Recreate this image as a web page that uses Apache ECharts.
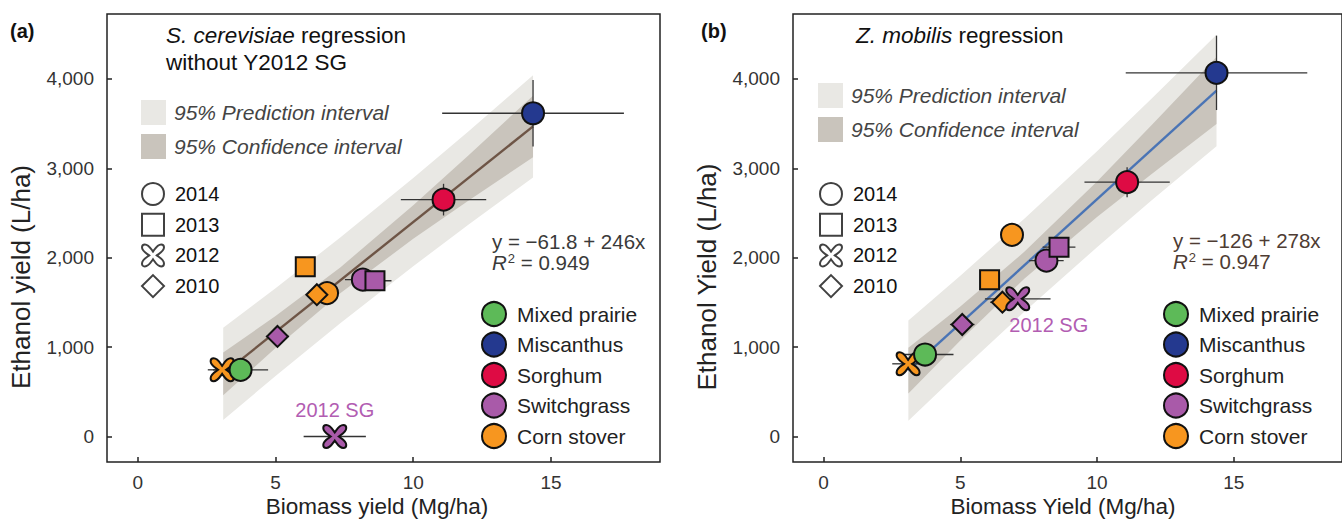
<!DOCTYPE html>
<html>
<head>
<meta charset="utf-8">
<script src="https://cdn.jsdelivr.net/npm/echarts@6/dist/echarts.min.js"></script>
<style>
  html, body { margin: 0; padding: 0; background: #fff; }
  #chart { width: 1342px; height: 521px; }
</style>
</head>
<body>
<div id="chart"></div>
<script>
// ---- categories ----
const cropNames = ['Mixed prairie', 'Miscanthus', 'Sorghum', 'Switchgrass', 'Corn stover'];
const yearLabels = ['2014', '2013', '2012', '2010'];
const bandNames = ['95% Prediction interval', '95% Confidence interval'];
const xTicks = [0, 5, 10, 15];
const yTicks = [0, 1000, 2000, 3000, 4000];

// ---- plotted points (same crop/year layout in both panels) ----
const pointCrop = [4, 4, 4, 4, 3, 3, 3, 3, 0, 1, 2];   // index into cropNames
const pointYear = [2, 3, 1, 0, 3, 1, 0, 2, 0, 0, 0];   // index into yearLabels

// panel (a): S. cerevisiae
const aBiomass    = [3.06, 6.50, 6.08, 6.87, 5.07, 8.61, 8.17, 7.15, 3.73, 14.35, 11.10];
const aEthanol    = [746, 1586, 1899, 1604, 1119, 1742, 1754, 0, 746, 3615, 2649];
const aBiomassErr = [0.52, 0.30, 0, 0.30, 0.42, 0.60, 0.65, 1.13, 1.00, 3.30, 1.55];
const aEthanolErr = [0, 0, 0, 0, 0, 0, 0, 0, 0, 373, 177];

// panel (b): Z. mobilis
const bBiomass    = [3.09, 6.54, 6.07, 6.89, 5.07, 8.61, 8.15, 7.10, 3.71, 14.37, 11.10];
const bEthanol    = [813, 1502, 1752, 2255, 1253, 2117, 1968, 1540, 917, 4067, 2844];
const bBiomassErr = [0.58, 0.45, 0.35, 0, 0.45, 0.60, 0.63, 1.20, 1.04, 3.32, 1.56];
const bEthanolErr = [0, 0, 0, 0, 0, 0, 0, 0, 0, 416, 168];

// ---- fitted regressions ----
const aIntercept = -61.8, aSlope = 246, aR2 = '0.949';
const bIntercept = -126,  bSlope = 278, bR2 = '0.947';

// ---- interval bands ----
const aBandX   = [3.10, 5.00, 7.35, 10.00, 12.00, 14.35];
const aPIUpper = [1217, 1659, 2225, 2892, 3412, 4040];
const aPILower = [185, 677, 1267, 1904, 2368, 2896];
const aCIUpper = [940, 1347, 1891, 2585, 3143, 3812];
const aCILower = [462, 989, 1601, 2211, 2637, 3124];

const bBandX   = [3.10, 5.00, 7.34, 10.00, 12.00, 14.37];
const bPIUpper = [1297, 1798, 2436, 3191, 3779, 4493];
const bPILower = [175, 730, 1394, 2117, 2641, 3245];
const bCIUpper = [992, 1453, 2065, 2853, 3483, 4243];
const bCILower = [480, 1075, 1765, 2455, 2937, 3495];

// ---- styling ----
const FONT = '"Liberation Sans", Arial, Helvetica, sans-serif';
const cropColors = ['#5dba58', '#24398f', '#de0b44', '#a95aa9', '#f7961f'];
const PI_COLOR = '#e9e8e4';
const CI_COLOR = '#c9c4bc';
const X_SHAPE = 'path://M50 34C60 20 68 4 84 4C94 4 96 10 96 16C96 32 80 40 66 50C80 60 96 68 96 84C96 90 94 96 84 96C68 96 60 80 50 66C40 80 32 96 16 96C6 96 4 90 4 84C4 68 20 60 34 50C20 40 4 32 4 16C4 10 6 4 16 4C32 4 40 20 50 34Z';
const yearSymbols = ['circle', 'rect', X_SHAPE, 'diamond'];
const yearSizes = [22, 19, 23, 21];
const drawOrder = [4, 3, 0, 1, 2];   // crops painted back to front

const chart = echarts.init(document.getElementById('chart'), null, { renderer: 'svg' });

function bandSeries(name, gi, xs, up, lo, color, z) {
  return {
    name: name, type: 'custom', xAxisIndex: gi, yAxisIndex: gi, z: z,
    itemStyle: { color: color }, silent: true,
    data: xs.map((x, i) => [x, up[i], lo[i]]),
    encode: { x: 0, y: [1, 2] },
    renderItem: function (params, api) {
      if (params.dataIndex !== 0) return;
      const top = xs.map((x, i) => api.coord([x, up[i]]));
      const bottom = xs.map((x, i) => api.coord([x, lo[i]])).reverse();
      return { type: 'polygon', shape: { points: top.concat(bottom) }, style: { fill: color } };
    }
  };
}

function errorSeries(gi, xs, ys, ex, ey) {
  return {
    type: 'custom', xAxisIndex: gi, yAxisIndex: gi, z: 4, silent: true,
    data: xs.map((x, i) => [x, ys[i], ex[i], ey[i]]),
    encode: { x: 0, y: 1 },
    renderItem: function (params, api) {
      const x = api.value(0), y = api.value(1), dx = api.value(2), dy = api.value(3);
      const st = { stroke: '#333', lineWidth: 1.3 };
      const kids = [];
      if (dx > 0) {
        const p1 = api.coord([x - dx, y]), p2 = api.coord([x + dx, y]);
        kids.push({ type: 'line', shape: { x1: p1[0], y1: p1[1], x2: p2[0], y2: p2[1] }, style: st });
      }
      if (dy > 0) {
        const p1 = api.coord([x, y - dy]), p2 = api.coord([x, y + dy]);
        kids.push({ type: 'line', shape: { x1: p1[0], y1: p1[1], x2: p2[0], y2: p2[1] }, style: st });
      }
      return { type: 'group', children: kids };
    }
  };
}

function fitSeries(gi, xs, b0, b1, color) {
  const x0 = xs[0], x1 = xs[xs.length - 1];
  return {
    type: 'line', xAxisIndex: gi, yAxisIndex: gi, z: 3, silent: true,
    symbol: 'none', lineStyle: { color: color, width: 2.4 },
    data: [[x0, b0 + b1 * x0], [x1, b0 + b1 * x1]]
  };
}

function pointSeries(gi, xs, ys, sgLabel) {
  return drawOrder.map(c => ({
    name: cropNames[c], type: 'scatter', xAxisIndex: gi, yAxisIndex: gi, z: 5,
    itemStyle: { color: cropColors[c], borderColor: '#111', borderWidth: 2, opacity: 1 },
    emphasis: { disabled: true },
    data: pointCrop.map((pc, i) => i).filter(i => pointCrop[i] === c).sort((i, j) => {
      const rank = [3, 1, 0, 2]; // circles on top
      return rank[pointYear[j]] - rank[pointYear[i]];
    }).map(i => {
      const item = {
        value: [xs[i], ys[i]],
        symbol: yearSymbols[pointYear[i]],
        symbolSize: yearSizes[pointYear[i]]
      };
      if (c === 3 && pointYear[i] === 2) {
        item.label = Object.assign({
          show: true, formatter: '2012 SG', color: '#b25db2',
          fontSize: 20, fontFamily: FONT
        }, sgLabel);
      }
      return item;
    })
  }));
}

function xAxisFor(gi) {
  return {
    gridIndex: gi, type: 'value', min: -1.12, max: 18.96,
    axisLine: { show: false, onZero: false },
    axisTick: { show: true, inside: true, length: 5, customValues: xTicks, lineStyle: { color: '#222', width: 1.5 } },
    axisLabel: { customValues: xTicks, fontSize: 19, color: '#333', fontFamily: FONT, margin: 11 },
    splitLine: { show: false }
  };
}
function yAxisFor(gi) {
  return {
    gridIndex: gi, type: 'value', min: -285, max: 4725,
    axisLine: { show: false, onZero: false },
    axisTick: { show: true, inside: true, length: 5, customValues: yTicks, lineStyle: { color: '#222', width: 1.5 } },
    axisLabel: {
      customValues: yTicks, fontSize: 19, color: '#333', fontFamily: FONT, margin: 13,
      formatter: v => v.toLocaleString('en-US')
    },
    splitLine: { show: false }
  };
}

const yearLegendData = yearLabels.map((y, k) => ({
  name: y, icon: yearSymbols[k],
  itemStyle: { color: '#fff', borderColor: '#111', borderWidth: 2 }
}));
const cropLegendData = cropNames.map((n, c) => ({
  name: n, icon: 'circle',
  itemStyle: { color: cropColors[c], borderColor: '#111', borderWidth: 2 }
}));
const bandLegendData = [
  { name: bandNames[0], icon: 'rect', itemStyle: { color: PI_COLOR, borderWidth: 0 } },
  { name: bandNames[1], icon: 'rect', itemStyle: { color: CI_COLOR, borderWidth: 0 } }
];

function bandLegend(left, top) {
  return {
    left: left, top: top, orient: 'vertical', padding: 0, selectedMode: false,
    itemWidth: 25, itemHeight: 25, itemGap: 9, data: bandLegendData,
    textStyle: { fontSize: 21, fontStyle: 'italic', color: '#444', fontFamily: FONT, padding: [0, 0, 0, 3] }
  };
}
function yearLegend(left, top) {
  return {
    left: left, top: top, orient: 'vertical', padding: 0, selectedMode: false,
    itemWidth: 22, itemHeight: 22, itemGap: 6.7, data: yearLegendData,
    textStyle: { fontSize: 20, color: '#111', fontFamily: FONT, padding: [0, 0, 0, 6] }
  };
}
function cropLegend(left, top) {
  return {
    left: left, top: top, orient: 'vertical', padding: 0, selectedMode: false,
    itemWidth: 24, itemHeight: 24, itemGap: 4.5, data: cropLegendData,
    textStyle: { fontSize: 21, color: '#222', fontFamily: FONT, padding: [0, 0, 0, 6] }
  };
}

function eqTitle(left, top, b0, b1, r2, color) {
  const sign = b0 < 0 ? '\u2212' : '';
  return {
    left: left, top: top, padding: 0,
    text: '{n|y = ' + sign + Math.abs(b0) + ' + ' + b1 + 'x}\n{i|R}{s|2}{n| = ' + r2 + '}',
    textStyle: {
      fontFamily: FONT, fontSize: 20.5, color: color, fontWeight: 'normal', lineHeight: 21,
      rich: {
        n: { fontSize: 20.5, color: color, fontFamily: FONT },
        i: { fontSize: 20.5, color: color, fontFamily: FONT, fontStyle: 'italic' },
        s: { fontSize: 13, color: color, fontFamily: FONT, padding: [0, 0, 9, 1] }
      }
    }
  };
}

function headTitle(text, left) {
  return {
    text: text, left: left, top: 22, padding: 0,
    textStyle: {
      fontSize: 22.5, fontWeight: 'normal', color: '#111', lineHeight: 27, fontFamily: FONT,
      rich: {
        i: { fontSize: 22.5, fontStyle: 'italic', color: '#111', fontFamily: FONT },
        n: { fontSize: 22.5, color: '#111', fontFamily: FONT }
      }
    }
  };
}

const dummyYearSeries = yearLabels.map(y => ({ name: y, type: 'scatter', data: [], xAxisIndex: 0, yAxisIndex: 0 }));

const option = {
  animation: false,
  backgroundColor: '#fff',
  textStyle: { fontFamily: FONT },
  grid: [
    { left: 107, top: 14, width: 553, height: 448, show: true, borderColor: '#222', borderWidth: 1.5, backgroundColor: 'transparent' },
    { left: 793, top: 14, width: 554, height: 448, show: true, borderColor: '#222', borderWidth: 1.5, backgroundColor: 'transparent' }
  ],
  xAxis: [xAxisFor(0), xAxisFor(1)],
  yAxis: [yAxisFor(0), yAxisFor(1)],
  title: [
    { text: '(a)', left: 10, top: 21, padding: 0, textStyle: { fontSize: 20, fontWeight: 'bold', color: '#111', fontFamily: FONT } },
    { text: '(b)', left: 701, top: 21, padding: 0, textStyle: { fontSize: 20, fontWeight: 'bold', color: '#111', fontFamily: FONT } },
    headTitle('{i|S. cerevisiae}{n| regression}\n{n|without Y2012 SG}', 166),
    headTitle('{i|Z. mobilis}{n| regression}', 856),
    eqTitle(492, 231, aIntercept, aSlope, aR2, '#3a3a3a'),
    eqTitle(1173, 230, bIntercept, bSlope, bR2, '#4e3c33')
  ],
  legend: [
    bandLegend(141, 100), yearLegend(141, 182), cropLegend(481, 301),
    bandLegend(818, 83), yearLegend(819, 182), cropLegend(1163, 301)
  ],
  graphic: [
    { type: 'text', x: 377, y: 506, style: { text: 'Biomass yield (Mg/ha)', fontSize: 22.5, fontFamily: FONT, fill: '#222', align: 'center', verticalAlign: 'middle' } },
    { type: 'text', x: 21, y: 277, rotation: Math.PI / 2, style: { text: 'Ethanol yield (L/ha)', fontSize: 26, fontFamily: FONT, fill: '#222', align: 'center', verticalAlign: 'middle' } },
    { type: 'text', x: 1063, y: 506, style: { text: 'Biomass Yield (Mg/ha)', fontSize: 22.5, fontFamily: FONT, fill: '#222', align: 'center', verticalAlign: 'middle' } },
    { type: 'text', x: 707, y: 277, rotation: Math.PI / 2, style: { text: 'Ethanol Yield (L/ha)', fontSize: 26, fontFamily: FONT, fill: '#222', align: 'center', verticalAlign: 'middle' } }
  ],
  series: [].concat(
    [bandSeries(bandNames[0], 0, aBandX, aPIUpper, aPILower, PI_COLOR, 1),
     bandSeries(bandNames[1], 0, aBandX, aCIUpper, aCILower, CI_COLOR, 2),
     fitSeries(0, aBandX, aIntercept, aSlope, '#6e5546'),
     errorSeries(0, aBiomass, aEthanol, aBiomassErr, aEthanolErr)],
    pointSeries(0, aBiomass, aEthanol, { position: 'top', distance: 4 }),
    [bandSeries(bandNames[0], 1, bBandX, bPIUpper, bPILower, PI_COLOR, 1),
     bandSeries(bandNames[1], 1, bBandX, bCIUpper, bCILower, CI_COLOR, 2),
     fitSeries(1, bBandX, bIntercept, bSlope, '#4a74b5'),
     errorSeries(1, bBiomass, bEthanol, bBiomassErr, bEthanolErr)],
    pointSeries(1, bBiomass, bEthanol, { position: 'bottom', distance: 4, offset: [31, 0] }),
    dummyYearSeries
  )
};

chart.setOption(option);
</script>
</body>
</html>
